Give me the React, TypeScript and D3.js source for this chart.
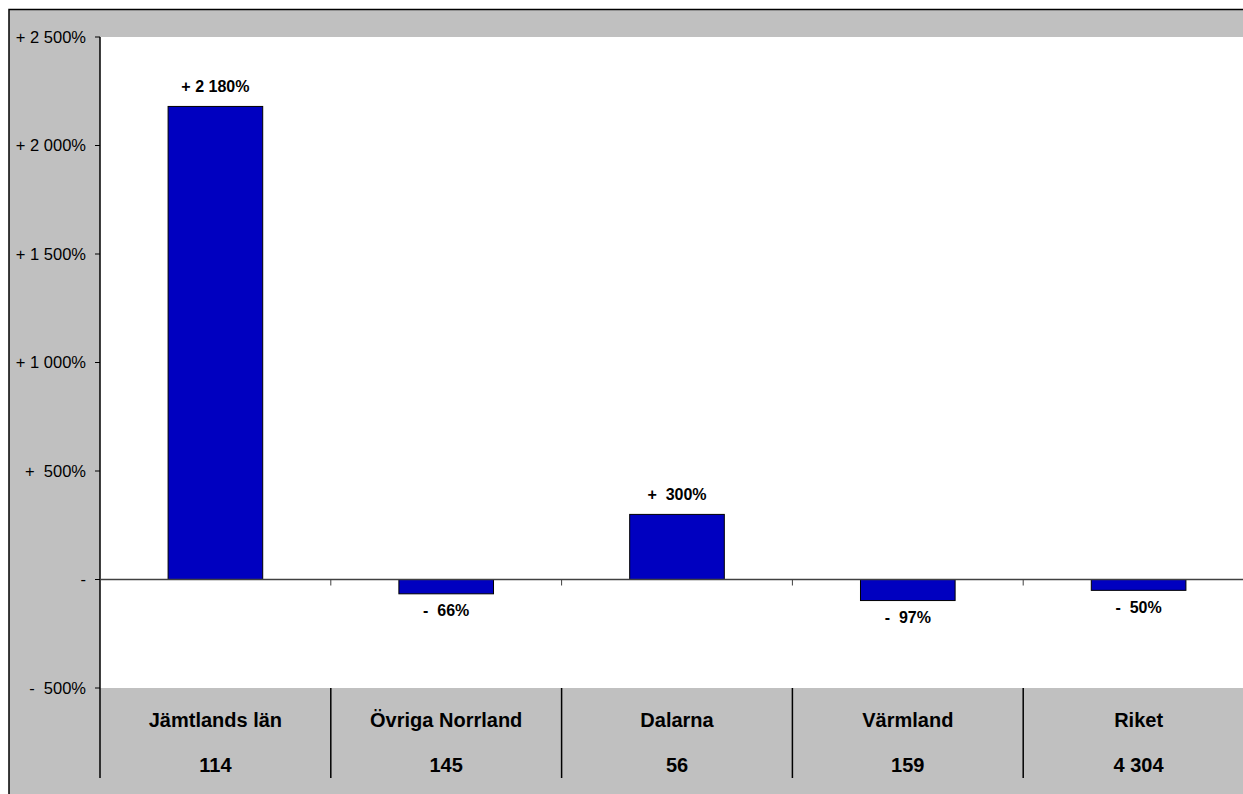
import React from "react";
import * as d3 from "d3";

const categories = ["Jämtlands län", "Övriga Norrland", "Dalarna", "Värmland", "Riket"];
const counts = ["114", "145", "56", "159", "4 304"];
const changes = [2180, -66, 300, -97, -50];
const yTicks = [-500, 0, 500, 1000, 1500, 2000, 2500];

const W = 1243;
const H = 794;
const plotLeft = 100;
const plotTop = 37;
const plotBottom = 688;
const plotRight = 1254;

function fmtPct(v: number): string {
  if (v === 0) return "-";
  const sign = v > 0 ? "+" : "-";
  const abs = Math.abs(v);
  const s = d3.format(",")(abs).replace(/,/g, " ");
  const pad = abs < 1000 ? "  " : " ";
  return sign + pad + s + "%";
}

export default function App() {
  const x = d3.scaleBand<string>().domain(categories).range([plotLeft, plotRight]).paddingInner(0).paddingOuter(0);
  const y = d3.scaleLinear().domain([-500, 2500]).range([plotBottom, plotTop]);
  const bw = x.bandwidth() * 0.41;
  const font = "Liberation Sans, Arial, sans-serif";
  const boundaries = categories.map((c) => x(c) as number);
  return (
    <svg width={W} height={H} style={{ position: "absolute", left: 0, top: 0 }} fontFamily={font}>
      <rect x={0} y={0} width={W} height={H} fill="#ffffff" />
      <rect x={9} y={9.5} width={W} height={H} fill="#C0C0C0" stroke="#000" strokeWidth={1.5} />
      <rect x={plotLeft} y={plotTop} width={plotRight - plotLeft} height={plotBottom - plotTop} fill="#ffffff" />
      {/* y axis */}
      <line x1={plotLeft} x2={plotLeft} y1={plotTop} y2={778} stroke="#000" strokeWidth={1.5} />
      {yTicks.map((t) => (
        <g key={t}>
          <line x1={plotLeft - 5} x2={plotLeft} y1={y(t)} y2={y(t)} stroke="#000" />
          <text x={86} y={y(t) + 5.5} fontSize={16.5} textAnchor="end" style={{ whiteSpace: "pre" }}>
            {fmtPct(t)}
          </text>
        </g>
      ))}
      {/* bars */}
      {categories.map((c, i) => {
        const v = changes[i];
        const cx = (x(c) as number) + x.bandwidth() / 2;
        const top = y(Math.max(0, v));
        const bot = y(Math.min(0, v));
        return (
          <g key={c}>
            <rect x={cx - bw / 2} y={top} width={bw} height={bot - top} fill="#0000C0" stroke="#000" strokeWidth={1} />
            <text
              x={cx}
              y={v >= 0 ? top - 14 : bot + 22.5}
              fontSize={16}
              fontWeight="bold"
              textAnchor="middle"
              style={{ whiteSpace: "pre" }}
            >
              {fmtPct(v)}
            </text>
          </g>
        );
      })}
      {/* zero line */}
      <line x1={plotLeft} x2={plotRight} y1={y(0)} y2={y(0)} stroke="#404040" strokeWidth={1.5} />
      {boundaries.slice(1).map((bx) => (
        <line key={"t" + bx} x1={bx} x2={bx} y1={y(0)} y2={y(0) + 6} stroke="#404040" strokeWidth={1} />
      ))}
      {/* table lines */}
      {boundaries.slice(1).map((bx) => (
        <line key={"v" + bx} x1={bx} x2={bx} y1={plotBottom} y2={778} stroke="#000" strokeWidth={1.5} />
      ))}
      {categories.map((c, i) => {
        const cx = (x(c) as number) + x.bandwidth() / 2;
        return (
          <g key={"l" + c}>
            <text x={cx} y={727} fontSize={20} fontWeight="bold" textAnchor="middle">
              {c}
            </text>
            <text x={cx} y={772} fontSize={20} fontWeight="bold" textAnchor="middle">
              {counts[i]}
            </text>
          </g>
        );
      })}
    </svg>
  );
}
